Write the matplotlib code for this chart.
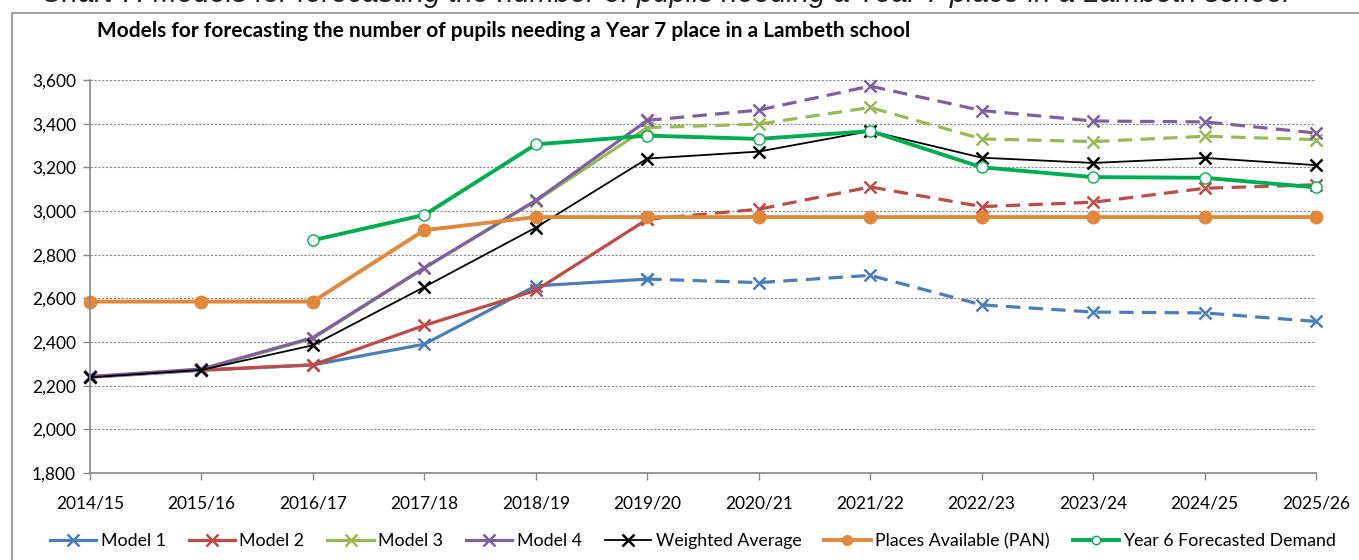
import matplotlib.pyplot as plt
from matplotlib.lines import Line2D
from matplotlib.patches import Rectangle
from matplotlib.ticker import FuncFormatter, MultipleLocator

plt.rcParams['font.family'] = ['Lato', 'DejaVu Sans']

# ── DATA ─────────────────────────────────────
years = ['2014/15', '2015/16', '2016/17', '2017/18', '2018/19', '2019/20',
         '2020/21', '2021/22', '2022/23', '2023/24', '2024/25', '2025/26']

model1 = [2238, 2270, 2295, 2390, 2657, 2688, 2672, 2705, 2570, 2537, 2533, 2494]
model2 = [2240, 2272, 2295, 2476, 2636, 2962, 3008, 3110, 3020, 3040, 3104, 3120]
model3 = [2240, 2274, 2416, 2738, 3046, 3382, 3398, 3474, 3330, 3318, 3342, 3327]
model4 = [2242, 2276, 2420, 2740, 3048, 3415, 3462, 3572, 3460, 3412, 3408, 3357]
weighted = [2238, 2272, 2385, 2652, 2924, 3240, 3272, 3366, 3244, 3220, 3243, 3210]
pan = [2585, 2585, 2585, 2912, 2972, 2972, 2972, 2972, 2972, 2972, 2972, 2972]
# Year 6 forecast starts in 2016/17
y6_years = years[2:]
year6 = [2866, 2982, 3305, 3345, 3330, 3366, 3200, 3155, 3152, 3108]

# last year of actual data -> dashed after this index
split = 5

c_m1, c_m2, c_m3, c_m4 = '#4a7ebb', '#be4b48', '#98b954', '#7d60a0'
c_pan, c_y6 = '#e2883a', '#00b050'

fig = plt.figure(figsize=(13.59, 5.6), dpi=100)
ax = fig.add_axes([0.0662, 0.1554, 0.9022, 0.7018])

# chart frame + cropped caption above it
fig.patches.append(Rectangle((12 / 1359, -0.1), 1.2, 1.1 - 13 / 560,
                             transform=fig.transFigure, fill=False,
                             edgecolor='#a0a0a0', lw=1.5))
fig.text(0.03, 0.997, 'Chart 7: Models for forecasting the number of pupils needing a Year 7 place in a Lambeth school',
         fontsize=21, style='italic', family=['Liberation Sans'], va='baseline', color='#222222')
fig.text(97 / 1359, 1 - 31 / 560, 'Models for forecasting the number of pupils needing a Year 7 place in a Lambeth school',
         fontsize=15, fontweight='bold', va='center', ha='left')

x = list(range(len(years)))
models = [(model1, c_m1, 'Model 1'), (model2, c_m2, 'Model 2'),
          (model3, c_m3, 'Model 3'), (model4, c_m4, 'Model 4')]
handles = []
for vals, col, lab in models:
    ax.plot(x[:split + 1], vals[:split + 1], color=col, lw=2.3, marker='x',
            ms=8, mew=1.8, solid_capstyle='round')
    ax.plot(x[split:], vals[split:], color=col, lw=2.3, marker='x', ms=8,
            mew=1.8, linestyle=(0, (4.5, 2.6)))
    handles.append(Line2D([], [], color=col, lw=2.3, marker='x', ms=8, mew=1.8, label=lab))

ax.plot(x, weighted, color='black', lw=1.3, marker='x', ms=9, mew=1.8)
handles.append(Line2D([], [], color='black', lw=1.3, marker='x', ms=8, mew=1.8, label='Weighted Average'))

ax.plot(x, pan, color=c_pan, lw=2.8, marker='o', ms=9)
handles.append(Line2D([], [], color=c_pan, lw=2.8, marker='o', ms=7, label='Places Available (PAN)'))

x6 = [years.index(y) for y in y6_years]
ax.plot(x6, year6, color=c_y6, lw=2.8, marker='o', ms=8, mfc='white', mew=1.0)
handles.append(Line2D([], [], color=c_y6, lw=2.8, marker='o', ms=6, mfc='white', mew=1.0,
                      label='Year 6 Forecasted Demand'))

# ── AXES ─────────────────────────────────────
ax.set_xlim(0, len(years) - 1)
ax.set_ylim(1800, 3600)
ax.set_xticks(x)
ax.set_xticklabels(years)
ax.yaxis.set_major_locator(MultipleLocator(200))
ax.yaxis.set_major_formatter(FuncFormatter(lambda v, p: f'{int(v):,}'))
ax.tick_params(axis='both', labelsize=12.5, color='#888888', length=5, width=1)
ax.tick_params(axis='x', pad=11)
ax.tick_params(axis='y', pad=5)
ax.grid(axis='y', color='#888888', linestyle=(0, (2, 1.5)), lw=0.8)
ax.set_axisbelow(True)
for s in ['top', 'right']:
    ax.spines[s].set_visible(False)
for s in ['left', 'bottom']:
    ax.spines[s].set_color('#888888')
    ax.spines[s].set_linewidth(1.2)
for line in ax.lines:
    line.set_clip_on(False)

fig.legend(handles=handles, loc='center', bbox_to_anchor=(0.51, 1 - 541 / 560),
           ncol=7, frameon=False, fontsize=12.8, handlelength=2.6, handletextpad=0.25,
           columnspacing=1.3)

plt.savefig('out.png', dpi=100)
